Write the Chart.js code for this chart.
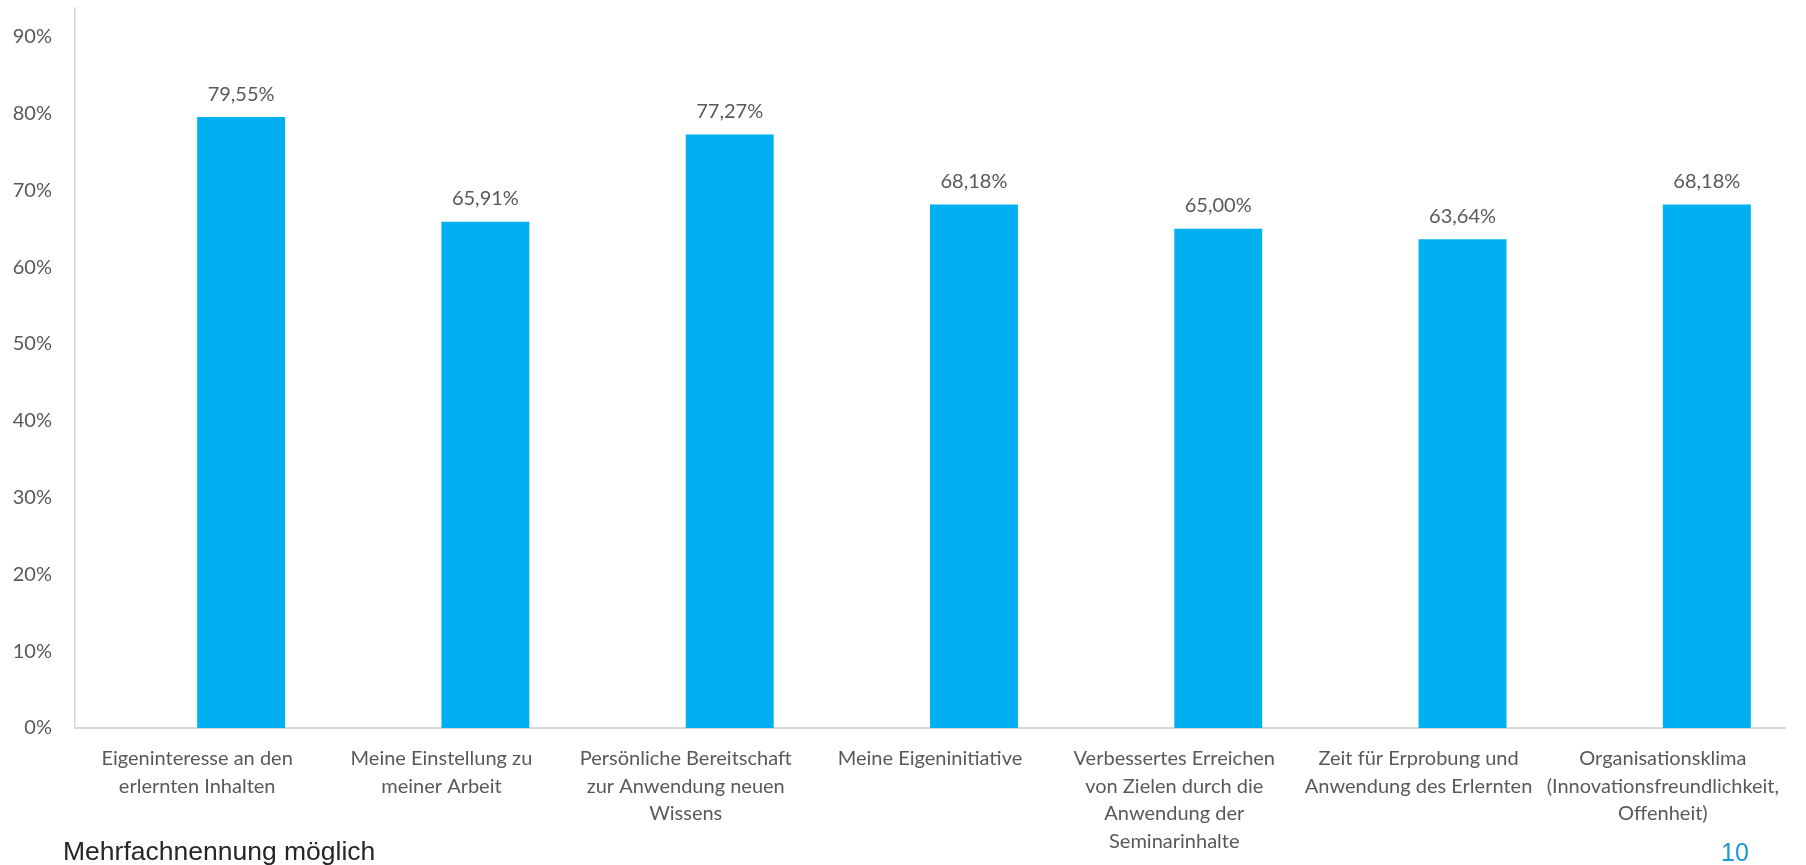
<!DOCTYPE html>
<html>
<head>
<meta charset="utf-8">
<script src="https://cdn.jsdelivr.net/npm/chart.js@4.4.1/dist/chart.umd.min.js"></script>
<style>
  html, body { margin: 0; padding: 0; background: #fff; overflow: hidden; }
  #wrap { position: relative; width: 1806px; height: 865px; }
  #footnote { position: absolute; left: 63px; top: 838px; font-family: "Liberation Sans", Arial, sans-serif; font-size: 26.5px; color: #262626; line-height: 1; }
  #pagenum { position: absolute; left: 1721px; top: 840px; font-family: "Liberation Sans", Arial, sans-serif; font-size: 25px; color: #1b9ad6; line-height: 1; }
</style>
</head>
<body>
<div id="wrap">
  <canvas id="chart" width="1806" height="865"></canvas>
  <div id="footnote">Mehrfachnennung möglich</div>
  <div id="pagenum">10</div>
</div>
<script>
  'use strict';

  // Categories (multi-line labels as in the original)
  const categories = [
    ['Eigeninteresse an den', 'erlernten Inhalten'],
    ['Meine Einstellung zu', 'meiner Arbeit'],
    ['Persönliche Bereitschaft', 'zur Anwendung neuen', 'Wissens'],
    ['Meine Eigeninitiative'],
    ['Verbessertes Erreichen', 'von Zielen durch die', 'Anwendung der', 'Seminarinhalte'],
    ['Zeit für Erprobung und', 'Anwendung des Erlernten'],
    ['Organisationsklima', '(Innovationsfreundlichkeit,', 'Offenheit)']
  ];

  // Percent values
  const values = [79.55, 65.91, 77.27, 68.18, 65.00, 63.64, 68.18];

  // Empty first series of the original chart (pushes bars right of the label)
  const emptySeries = [null, null, null, null, null, null, null];

  const yTicks = [0, 10, 20, 30, 40, 50, 60, 70, 80, 90];

  const textColor = '#595959';
  const barColor = '#00b0f0';
  const axisColor = '#d9d9d9';

  function formatPct(v) {
    return v.toFixed(2).replace('.', ',') + '%';
  }

  // Value labels above the bars
  const valueLabels = {
    id: 'valueLabels',
    afterDatasetsDraw(chart) {
      const ctx = chart.ctx;
      const meta = chart.getDatasetMeta(1);
      ctx.save();
      ctx.font = '20px Lato';
      ctx.fillStyle = textColor;
      ctx.textAlign = 'center';
      ctx.textBaseline = 'middle';
      meta.data.forEach((bar, i) => {
        ctx.fillText(formatPct(values[i]), bar.x, bar.y - 23);
      });
      ctx.restore();
    }
  };

  new Chart(document.getElementById('chart'), {
    type: 'bar',
    data: {
      labels: categories,
      datasets: [
        { label: 'leer', data: emptySeries, backgroundColor: barColor },
        { label: 'Anteil', data: values, backgroundColor: barColor }
      ]
    },
    options: {
      responsive: false,
      animation: false,
      events: [],
      categoryPercentage: 0.72,
      barPercentage: 1.0,
      layout: { padding: { top: 8, right: 21, left: 0, bottom: 0 } },
      plugins: {
        legend: { display: false },
        tooltip: { enabled: false }
      },
      scales: {
        x: {
          offset: true,
          grid: { display: false, drawTicks: false },
          border: { display: true, color: axisColor, width: 2 },
          ticks: {
            color: textColor,
            font: { family: 'Lato', size: 20, lineHeight: 1.38 },
            padding: 17,
            maxRotation: 0,
            autoSkip: false
          },
          afterFit(scale) { scale.height = 137; }
        },
        y: {
          min: 0,
          max: 93.75,
          grid: { display: false, drawTicks: false },
          border: { display: true, color: axisColor, width: 1.5 },
          ticks: {
            color: textColor,
            font: { family: 'Lato', size: 20 },
            padding: 23,
            callback: v => v + '%'
          },
          afterBuildTicks(scale) {
            scale.ticks = yTicks.map(v => ({ value: v }));
          },
          afterFit(scale) {
            scale.width = 75;
            scale.paddingTop = 0;
            scale.paddingBottom = 0;
          }
        }
      }
    },
    plugins: [valueLabels]
  });
</script>
</body>
</html>
